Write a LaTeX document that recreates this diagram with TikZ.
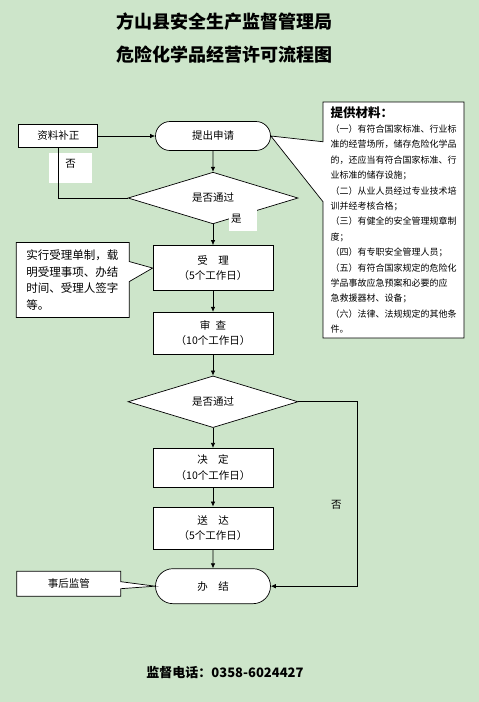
\documentclass[tikz,border=0pt]{standalone}
\usepackage{fontspec}
\setmainfont{Noto Sans CJK SC}
\usetikzlibrary{arrows.meta,positioning,shapes.geometric,shapes.misc,shapes.callouts}
\definecolor{pagegreen}{HTML}{CDE5CA}

\begin{document}
\begin{tikzpicture}[
  x=1pt, y=1pt,
  node distance=21pt and 57pt,
  font=\fontsize{10.5}{15.5}\selectfont,
  box/.style={draw, fill=white, line width=0.7pt, align=center,
    minimum width=120pt, minimum height=42pt, inner sep=2pt},
  term/.style={box, rounded rectangle, minimum width=119pt, minimum height=29pt},
  check/.style={box, diamond, minimum width=170pt, minimum height=43pt, inner sep=0pt},
  note/.style={rectangle callout, draw, fill=white, line width=0.7pt, inner sep=0pt},
  tag/.style={fill=white, inner sep=0pt},
  arr/.style={-{Latex[length=5pt,width=4.5pt]}, line width=0.7pt},
  link/.style={line width=0.7pt},
]
\fill[pagegreen] (0,0) rectangle (479,-702);
\useasboundingbox (0,0) rectangle (479,-702);

\node[font=\bfseries\fontsize{18}{33}\selectfont, align=center] (title) at (224,-38.5)
  {方山县安全生产监督管理局\\危险化学品经营许可流程图};

% main column
\node[term] (apply) at (213,-136) {提出申请};
\node[check, below=of apply] (check1) {是否通过};
\node[box, below=of check1, minimum height=45pt] (accept) {受\quad 理\\（5个工作日）};
\node[box, below=of accept] (review) {审\enspace 查\\（10个工作日）};
\node[check, below=of review] (check2) {是否通过};
\node[box, below=20pt of check2, minimum height=39pt] (decide) {决\quad 定\\（10个工作日）};
\node[box, below=19pt of decide] (deliver) {送\quad 达\\（5个工作日）};
\node[term, below=19pt of deliver, minimum height=35pt] (finish) {办\quad 结};

% side boxes and notes
\node[box, minimum width=79pt, minimum height=23pt, left=57pt of apply] (supplement) {资料补正};
\node[note, minimum width=141pt, minimum height=236pt, text width=126pt, align=left,
  callout absolute pointer={(apply.east)}, callout pointer width=60pt,
  font=\fontsize{9}{15.4}\selectfont] (materials) at (393.5,-220)
  {{\bfseries\fontsize{12.5}{16}\selectfont 提供材料：}\\
   （一）有符合国家标准、行业标\\
   准的经营场所，储存危险化学品\\
   的，还应当有符合国家标准、行\\
   业标准的储存设施；\\
   （二）从业人员经过专业技术培\\
   训并经考核合格；\\
   （三）有健全的安全管理规章制\\
   度；\\
   （四）有专职安全管理人员；\\
   （五）有符合国家规定的危险化\\
   学品事故应急预案和必要的应\\
   急救援器材、设备；\\
   （六）法律、法规规定的其他条\\
   件。};
\node[note, minimum width=113pt, minimum height=75pt, text width=93pt, align=left,
  left=23pt of accept, yshift=-12pt,
  callout absolute pointer={(accept.west)}, callout pointer width=20pt,
  font=\fontsize{11.5}{16.7}\selectfont] (acceptnote)
  {实行受理单制，载\\明受理事项、办结\\时间、受理人签字\\等。};
\node[note, minimum width=104pt, minimum height=25pt, left=34pt of finish, yshift=2.5pt,
  callout absolute pointer={(finish.west)}, callout pointer width=7pt] (aftercare) {事后监管};

% label patches
\node[tag, minimum width=43pt, minimum height=30pt, text depth=9pt] (nolabel) at (70.5,-168) {否};
\node[tag, minimum width=28pt, minimum height=21pt, text width=24pt, align=left, text depth=5pt]
  (yeslabel) at (243,-220.5) {是};

\draw[arr] (supplement.east) -- (apply.west);
\draw[arr] (apply) -- (check1);
\draw[link] (supplement.south) |- (check1.west);
\draw[arr] (check1) -- (accept);
\draw[arr] (accept) -- (review);
\draw[arr] (review) -- (check2);
\draw[arr] (check2) -- (decide);
\draw[arr] (decide) -- (deliver);
\draw[arr] (deliver) -- (finish);
\draw[arr] (check2.east) -- ++(59,0) |- node[pos=0.28, left=12pt] {否} (finish.east);

\node[font=\bfseries\fontsize{13}{15}\selectfont] (phone) at (225,-673) {监督电话：0358-6024427};
\end{tikzpicture}
\end{document}
